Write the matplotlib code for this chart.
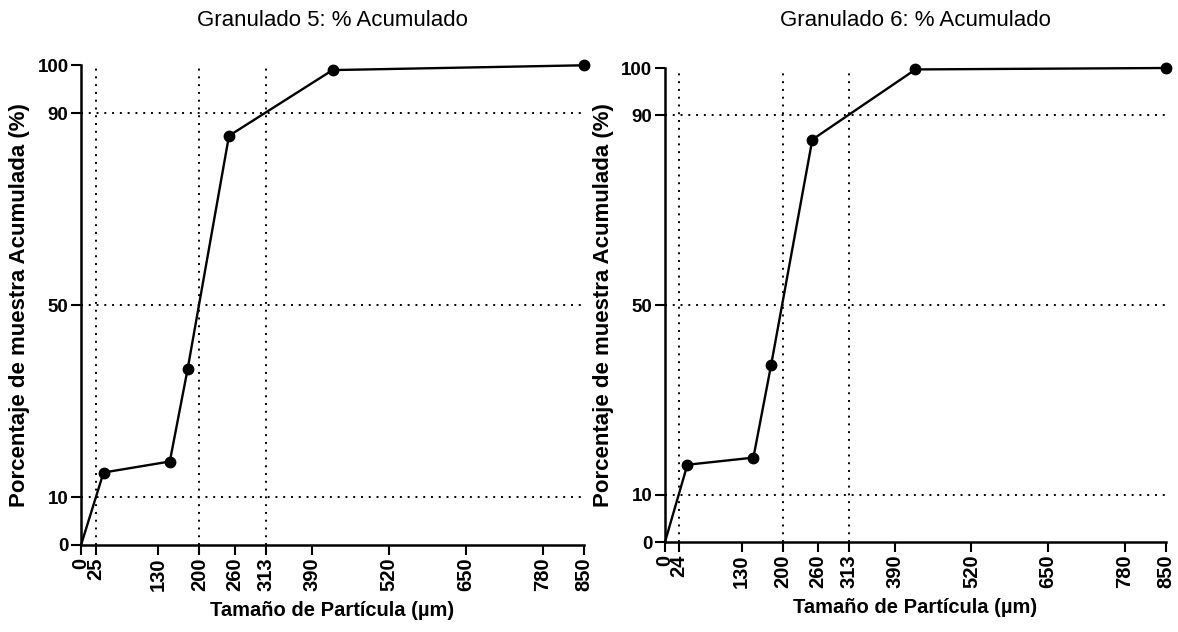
import matplotlib.pyplot as plt
from matplotlib.transforms import ScaledTranslation

plt.rcParams["font.family"] = ["Liberation Sans", "DejaVu Sans"]

# particle size (um) and cumulative percentage
sizes = [0, 38, 150, 180, 250, 425, 850]
granulado_5 = [0, 15.1, 17.4, 36.6, 85.3, 99.0, 100]
granulado_6 = [0, 16.3, 17.8, 37.3, 84.9, 99.7, 100]

y_ticks = [0, 10, 50, 90, 100]
x_ticks_5 = [0, 25, 130, 200, 260, 313, 390, 520, 650, 780, 850]
x_ticks_6 = [0, 24, 130, 200, 260, 313, 390, 520, 650, 780, 850]

# d10 / d50 / d90 reference lines
h_refs = [10, 50, 90]
v_refs_5 = [25, 200, 313]
v_refs_6 = [24, 200, 313]

titles = ["Granulado 5: % Acumulado", "Granulado 6: % Acumulado"]


def draw_panel(ax, values, x_ticks, v_refs, title, title_pad):
    dot = (0, (1, 3))
    for y in h_refs:
        ax.plot([0, 850], [y, y], color="black", lw=1.4, linestyle=dot, zorder=1)
    for x in v_refs:
        ax.plot([x, x], [0, 100], color="black", lw=1.4, linestyle=dot, zorder=1)

    ax.plot(sizes, values, color="black", lw=1.7, marker="o", markersize=7.5,
            markevery=list(range(1, len(sizes))), clip_on=False, zorder=3)

    ax.set_xlim(0, 850)
    ax.set_ylim(0, 100)
    ax.set_xticks(x_ticks)
    ax.set_yticks(y_ticks)
    ax.set_xticklabels([str(t) for t in x_ticks], rotation=90, fontweight="bold", fontsize=14.5)
    ax.set_yticklabels([str(t) for t in y_ticks], fontweight="bold", fontsize=13.5)

    # the first two x labels sit very close, nudge them apart a little
    labels = ax.get_xticklabels()
    labels[0].set_transform(labels[0].get_transform() + ScaledTranslation(-2 / 72, 0, ax.figure.dpi_scale_trans))
    labels[1].set_transform(labels[1].get_transform() + ScaledTranslation(1.5 / 72, 0, ax.figure.dpi_scale_trans))

    for side in ["top", "right"]:
        ax.spines[side].set_visible(False)
    for side in ["left", "bottom"]:
        ax.spines[side].set_linewidth(1.8)
    ax.tick_params(length=7, width=1.5, pad=2)

    ax.set_xlabel("Tamaño de Partícula (µm)", fontweight="bold", fontsize=14.5, labelpad=7)
    ax.set_ylabel("Porcentaje de muestra Acumulada (%)", fontweight="bold", fontsize=16, labelpad=5)
    ax.set_title(title, fontsize=16, pad=title_pad)


fig = plt.figure(figsize=(11.78, 6.32), dpi=100)
ax_left = fig.add_axes([0.0688, 0.1377, 0.427, 0.759])
ax_right = fig.add_axes([0.5645, 0.1424, 0.4253, 0.75])

draw_panel(ax_left, granulado_5, x_ticks_5, v_refs_5, titles[0], 28)
draw_panel(ax_right, granulado_6, x_ticks_6, v_refs_6, titles[1], 30.5)

fig.savefig("out.png", dpi=100)
